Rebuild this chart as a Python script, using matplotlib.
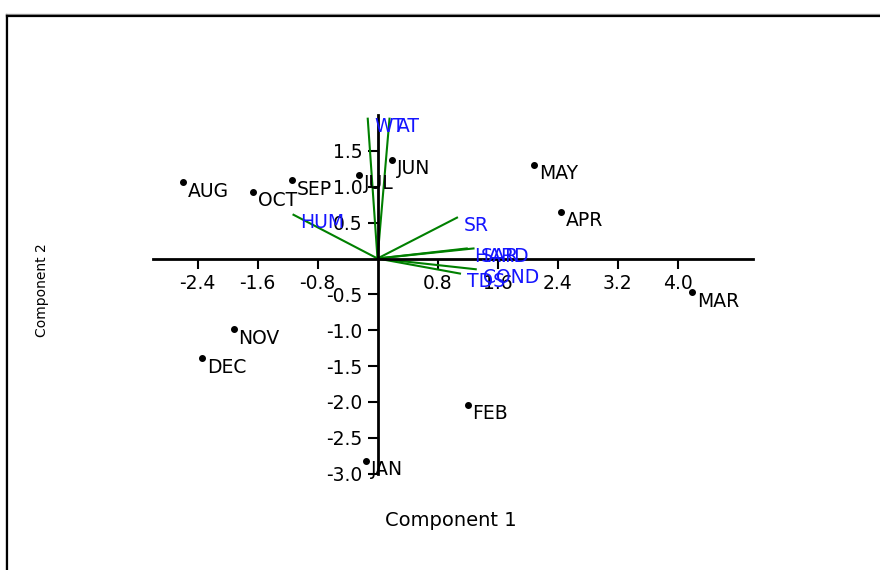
import numpy as np
import matplotlib
matplotlib.use('Agg')
import matplotlib.pyplot as plt
from matplotlib.lines import Line2D

plt.rcParams['font.family'] = ['DejaVu Sans']
plt.rcParams['axes.unicode_minus'] = False

# scores (months)
months = ['AUG', 'OCT', 'SEP', 'JUL', 'JUN', 'MAY', 'APR', 'MAR', 'NOV', 'DEC', 'FEB', 'JAN']
pc1 = [-2.60, -1.66, -1.14, -0.25, 0.19, 2.09, 2.45, 4.19, -1.92, -2.34, 1.20, -0.15]
pc2 = [1.06, 0.93, 1.09, 1.17, 1.38, 1.31, 0.65, -0.47, -0.99, -1.39, -2.04, -2.82]

# loadings (variables)
variables = ['WT', 'AT', 'HUM', 'SR', 'HARD', 'SAR', 'COND', 'TDS']
load1 = [-0.13, 0.16, -1.12, 1.06, 1.19, 1.28, 1.31, 1.10]
load2 = [1.95, 1.95, 0.61, 0.57, 0.14, 0.14, -0.15, -0.21]

xticks = [-2.4, -1.6, -0.8, 0.8, 1.6, 2.4, 3.2, 4.0]
yticks = [-3.0, -2.5, -2.0, -1.5, -1.0, -0.5, 0.5, 1.0, 1.5]

W, H = 880, 570
fs = 13.5
fig = plt.figure(figsize=(8.8, 5.7), dpi=100)
ax = fig.add_axes([152.5 / W, (H - 473.6) / H, 600 / W, 358.5 / H])
ax.set_xlim(-3, 5)
ax.set_ylim(-3, 2)

for s in ['top', 'right']:
    ax.spines[s].set_visible(False)
ax.spines['left'].set_position(('data', 0))
ax.spines['bottom'].set_position(('data', 0))
ax.spines['left'].set_linewidth(2)
ax.spines['bottom'].set_linewidth(2)

ax.set_xticks(xticks)
ax.set_xticklabels(['%.1f' % v for v in xticks])
ax.set_yticks(yticks)
ax.set_yticklabels(['%.1f' % v for v in yticks])
ax.tick_params(direction='out', length=7, width=1.5, labelsize=fs, pad=4)

# loading vectors
for v, a, b in zip(variables, load1, load2):
    ax.plot([0, a], [0, b], color='#008000', lw=1.5, zorder=2)
    ax.annotate(v, (a, b), xytext=(7, -8), textcoords='offset pixels',
                color='#1515ff', fontsize=fs, ha='left', va='center')

# month scores
ax.plot(pc1, pc2, 'o', color='black', ms=4, zorder=3)
for m, a, b in zip(months, pc1, pc2):
    ax.annotate(m, (a, b), xytext=(5, -9), textcoords='offset pixels',
                color='black', fontsize=fs, ha='left', va='center')

fig.text(451 / W, 1 - 520 / H, 'Component 1', fontsize=14, ha='center', va='center')
fig.text(42 / W, 1 - 290 / H, 'Component 2', fontsize=10, ha='center', va='center', rotation=90)

# outer frame (left and top edges)
fig.add_artist(Line2D([5.5 / W, 5.5 / W], [0, 1 - 14 / H], color='#999999', lw=1, transform=fig.transFigure))
fig.add_artist(Line2D([5.5 / W, 1], [1 - 14 / H, 1 - 14 / H], color='#999999', lw=1, transform=fig.transFigure))
fig.add_artist(Line2D([7 / W, 7 / W], [0, 1 - 15.5 / H], color='black', lw=1.6, transform=fig.transFigure))
fig.add_artist(Line2D([7 / W, 1], [1 - 15.5 / H, 1 - 15.5 / H], color='black', lw=1.6, transform=fig.transFigure))

fig.savefig('out.png', dpi=100)
